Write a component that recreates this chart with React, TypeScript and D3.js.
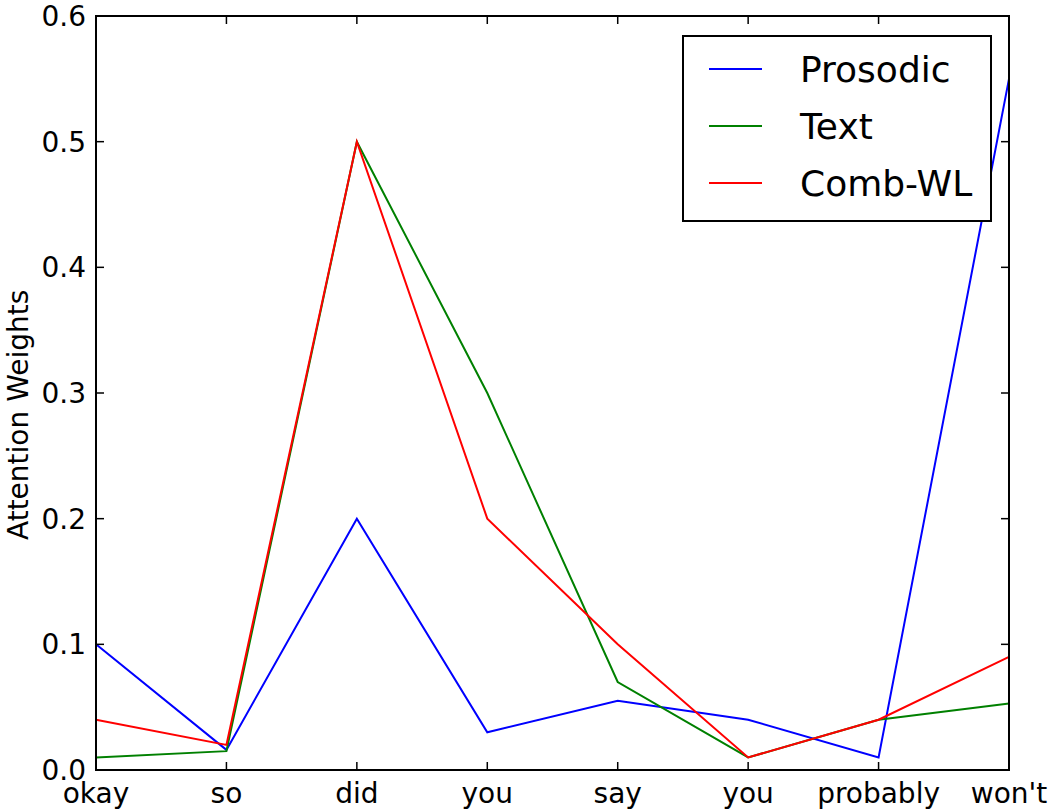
import * as d3 from 'd3'

const words = ['okay', 'so', 'did', 'you', 'say', 'you', 'probably', "won't"]
const prosodic = [0.1, 0.016, 0.2, 0.03, 0.055, 0.04, 0.01, 0.55]
const text = [0.01, 0.015, 0.5, 0.3, 0.07, 0.01, 0.04, 0.053]
const combWL = [0.04, 0.02, 0.5, 0.2, 0.1, 0.01, 0.04, 0.09]
const yTicks = [0, 0.1, 0.2, 0.3, 0.4, 0.5, 0.6]

const series = [
  { name: 'Prosodic', values: prosodic, color: '#0000ff' },
  { name: 'Text', values: text, color: '#008000' },
  { name: 'Comb-WL', values: combWL, color: '#ff0000' },
]

const W = 1050
const H = 812
const m = { top: 16, right: 41, bottom: 42, left: 96 }
const FONT = '"DejaVu Sans", sans-serif'

export default function App() {
  const x = d3.scaleLinear().domain([0, words.length - 1]).range([m.left, W - m.right])
  const y = d3.scaleLinear().domain([0, 0.6]).range([H - m.bottom, m.top])
  const line = d3.line<number>().x((_, i) => x(i)).y(d => y(d))

  const x0 = m.left, x1 = W - m.right, y0 = H - m.bottom, y1 = m.top
  const tick = 8

  return (
    <svg width={W} height={H} style={{ position: 'absolute', left: 0, top: 0, background: '#fff' }} fontFamily={FONT}>
      {series.map(s => (
        <path key={s.name} d={line(s.values) || ''} fill="none" stroke={s.color} strokeWidth={2} strokeLinejoin="miter" />
      ))}

      {/* x ticks, inside, top and bottom */}
      {words.map((w, i) => (
        <g key={i}>
          <line x1={x(i)} x2={x(i)} y1={y0} y2={y0 - tick} stroke="#000" strokeWidth={1.5} />
          <line x1={x(i)} x2={x(i)} y1={y1} y2={y1 + tick} stroke="#000" strokeWidth={1.5} />
          <text x={x(i)} y={803} textAnchor="middle" fontSize={28} fill="#000">{w}</text>
        </g>
      ))}

      {/* y ticks, inside, left and right */}
      {yTicks.map(t => (
        <g key={t}>
          <line x1={x0} x2={x0 + tick} y1={y(t)} y2={y(t)} stroke="#000" strokeWidth={1.5} />
          <line x1={x1} x2={x1 - tick} y1={y(t)} y2={y(t)} stroke="#000" strokeWidth={1.5} />
          <text x={86} y={y(t) + 10} textAnchor="end" fontSize={28} fill="#000">{d3.format('.1f')(t)}</text>
        </g>
      ))}

      <rect x={x0} y={y1} width={x1 - x0} height={y0 - y1} fill="none" stroke="#000" strokeWidth={2} />

      <text transform={`translate(28,540) rotate(-90)`} textAnchor="start" fontSize={28} fill="#000">Attention Weights</text>

      {/* legend */}
      <rect x={683} y={36} width={308} height={185} fill="#fff" stroke="#000" strokeWidth={2} />
      {series.map((s, i) => (
        <g key={s.name} transform={`translate(0,${69 + i * 57})`}>
          <line x1={709} x2={762} y1={0} y2={0} stroke={s.color} strokeWidth={2} />
          <text x={800} y={13} fontSize={36} fill="#000">{s.name}</text>
        </g>
      ))}
    </svg>
  )
}
